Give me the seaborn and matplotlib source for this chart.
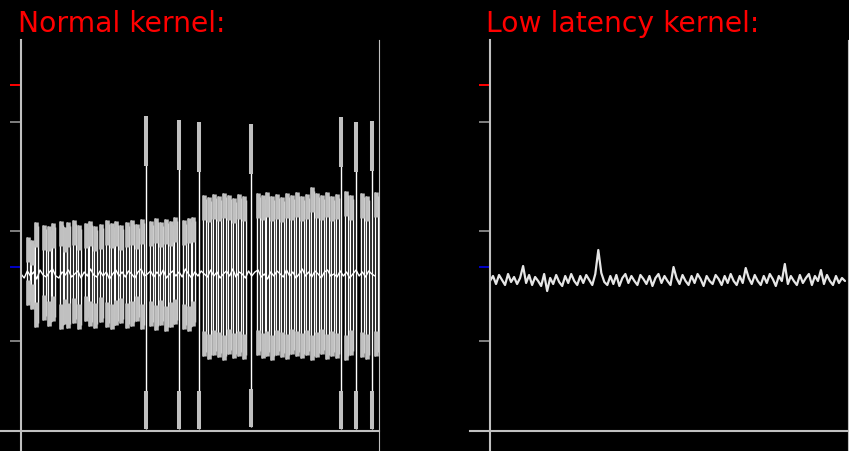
import numpy as np
import pandas as pd
import matplotlib
matplotlib.use("Agg")
import matplotlib.pyplot as plt
import seaborn as sns

# ---------------- data ----------------
titles = ["Normal kernel:", "Low latency kernel:"]

ytick_values = [90, 164, 200, 309, 346]
ytick_colors = ["#808080", "#0000c8", "#808080", "#808080", "#ff0000"]

# normal kernel: baseline trace samples
normal_center = [
    157, 153, 160, 155, 159, 152, 161, 156, 154, 159, 162, 155, 153, 159, 156, 161, 154, 157, 160, 153,
    159, 155, 162, 156, 154, 160, 155, 159, 152, 157, 161, 155, 159, 154, 160, 157, 153, 159, 162, 155,
    157, 160, 154, 159, 155, 161, 153, 157, 160, 155, 159, 154, 162, 157, 153, 159, 155, 160, 157, 154,
    161, 155, 159, 153, 157, 160, 155, 162, 154, 159, 157, 153, 160, 155, 159, 161, 154, 157, 152, 159,
    155, 160, 157, 154, 161, 155, 159, 153, 157, 162, 155, 159, 154, 160, 157, 153, 159, 161, 155, 157,
    154, 160, 155, 159, 153, 157, 161, 155, 159, 154, 160, 157, 155,
]

# normal kernel: latency excursions (position, max, min)
normal_bar_x = [6, 10, 14, 22, 27, 31, 39, 43, 46, 52,
                57, 64, 68, 73, 79, 85, 90, 94, 99, 105,
                110, 115, 120, 129, 134, 139, 144, 149, 153, 162,
                167, 171, 182, 187, 192, 197, 202, 207, 212, 217,
                222, 236, 241, 245, 250, 255, 260, 265, 270, 275,
                280, 285, 290, 295, 300, 305, 310, 315, 324, 329,
                340, 345, 354]
normal_bar_top = [194, 191, 209, 206, 205, 208, 210, 204, 209, 211,
                  206, 208, 210, 205, 207, 211, 208, 210, 206, 209,
                  211, 207, 212, 210, 213, 209, 212, 210, 214, 211,
                  213, 214, 236, 234, 237, 235, 238, 236, 233, 237,
                  235, 238, 236, 239, 235, 237, 234, 238, 236, 239,
                  235, 237, 244, 238, 236, 239, 235, 237, 240, 236,
                  238, 235, 239]
normal_bar_bottom = [126, 122, 104, 111, 105, 110, 102, 107, 103, 108,
                     102, 110, 105, 103, 109, 104, 102, 106, 108, 103,
                     105, 110, 102, 105, 101, 106, 100, 104, 107, 102,
                     100, 105, 75, 72, 76, 74, 71, 77, 73, 75,
                     72, 76, 73, 75, 71, 76, 74, 72, 77, 75,
                     73, 76, 71, 74, 77, 72, 75, 73, 71, 76,
                     74, 72, 75]

# normal kernel: full-range spikes
normal_spike_x = [124, 157, 177, 229, 319, 334, 350]
normal_spike_top = [315, 311, 309, 307, 314, 309, 310]
normal_spike_bottom = [2, 2, 2, 4, 2, 2, 2]

# low latency kernel trace
lowlat_trace = [
    150, 155, 147, 156, 151, 146, 157, 149, 154, 147, 153, 165, 148, 156, 146, 154, 150, 145, 157, 140,
    153, 147, 156, 149, 145, 155, 148, 157, 150, 146, 155, 148, 156, 151, 146, 157, 181, 158, 149, 146,
    155, 147, 156, 145, 153, 157, 148, 155, 150, 146, 156, 152, 147, 155, 145, 153, 157, 148, 155, 150,
    146, 164, 153, 147, 156, 150, 146, 155, 148, 157, 152, 145, 155, 150, 147, 156, 152, 146, 155, 148,
    157, 150, 146, 155, 148, 163, 153, 147, 156, 150, 146, 155, 148, 157, 152, 145, 155, 150, 167, 147,
    155, 150, 146, 156, 148, 153, 157, 146, 155, 150, 161, 147, 156, 150, 146, 155, 148, 153, 150,
]

# ---------------- style ----------------
sns.set_theme(style="dark", rc={
    "axes.facecolor": "black",
    "figure.facecolor": "black",
    "axes.grid": False,
})
plt.rcParams["font.family"] = ["DejaVu Sans"]

AXIS_COL = "#c0c0c0"
CAP_COL = "#c0c0c0"
X_END = 358

fig = plt.figure(figsize=(8.49, 4.52), dpi=100, facecolor="black")
ax_l = fig.add_axes([1 / 849, 0, 378 / 849, 411 / 452])
ax_r = fig.add_axes([470 / 849, 0, 379 / 849, 411 / 452])


def style_axes(ax, xmax):
    ax.set_facecolor("black")
    ax.set_xlim(-20, xmax)
    ax.set_ylim(-20, 391)
    ax.spines["top"].set_visible(False)
    ax.spines["left"].set_position(("data", 0))
    ax.spines["bottom"].set_position(("data", 0))
    ax.spines["right"].set_position(("data", X_END))
    for s in ["left", "bottom"]:
        ax.spines[s].set_color(AXIS_COL)
        ax.spines[s].set_linewidth(1.5)
    ax.spines["right"].set_color(AXIS_COL)
    ax.spines["right"].set_linewidth(0.8)
    ax.set_xticks([])
    ax.set_yticks(ytick_values)
    ax.set_yticklabels([])
    ax.tick_params(axis="y", direction="out", length=7.9, width=1.4, left=True)
    for t, c in zip(ax.yaxis.get_major_ticks(), ytick_colors):
        t.tick1line.set_color(c)
        t.tick1line.set_markeredgecolor(c)
        t.tick1line.set_markerfacecolor(c)
    ax.set_xlabel("")
    ax.set_ylabel("")


# ---- normal kernel ----
n = len(normal_center)
df_l = pd.DataFrame({"t": np.linspace(0, 354, n), "latency": normal_center})
sns.lineplot(data=df_l, x="t", y="latency", estimator=None,
             color="white", lw=1.0, ax=ax_l, zorder=2)

bx = np.array(normal_bar_x, dtype=float)
bt = np.array(normal_bar_top, dtype=float)
bb = np.array(normal_bar_bottom, dtype=float)
# white verticals of each excursion
ax_l.vlines(bx, bb, bt, colors="white", lw=1.0, zorder=2)
ax_l.vlines(bx + 2.5, bb + 4, bt - 4, colors="white", lw=1.0, zorder=2)
# grey caps at the extremes
ax_l.vlines(bx + 1.2, bt - 25, bt, colors=CAP_COL, lw=3.3, zorder=3)
ax_l.vlines(bx + 1.2, bb, bb + 25, colors=CAP_COL, lw=3.3, zorder=3)

sx = np.array(normal_spike_x, dtype=float)
st = np.array(normal_spike_top, dtype=float)
sb = np.array(normal_spike_bottom, dtype=float)
ax_l.vlines(sx + 0.5, sb, st, colors="white", lw=1.0, zorder=2)
ax_l.vlines(sx + 0.5, st - 50, st, colors=CAP_COL, lw=2.9, zorder=3)
ax_l.vlines(sx + 0.5, sb, sb + 38, colors=CAP_COL, lw=2.9, zorder=3)
style_axes(ax_l, 358)

# ---- low latency kernel ----
m = len(lowlat_trace)
df_r = pd.DataFrame({"t": np.linspace(0, 355, m), "latency": lowlat_trace})
sns.lineplot(data=df_r, x="t", y="latency", estimator=None,
             color="#e6e6e6", lw=1.6, ax=ax_r, zorder=2)
style_axes(ax_r, 359)

# ---- titles ----
fig.text(18 / 849, 1 - 32 / 452, titles[0], color="#ff0000", fontsize=20.3,
         ha="left", va="baseline")
fig.text(486 / 849, 1 - 32 / 452, titles[1], color="#ff0000", fontsize=20.3,
         ha="left", va="baseline")

fig.savefig("out.png", dpi=100, facecolor="black")
